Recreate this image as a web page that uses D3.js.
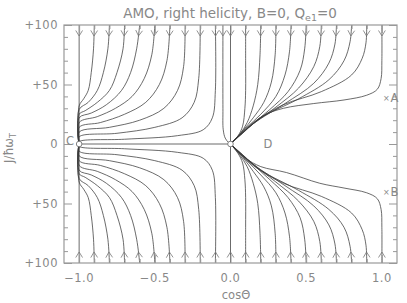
<!DOCTYPE html>
<html>
<head>
<meta charset="utf-8">
<script src="https://cdn.jsdelivr.net/npm/d3@7"></script>
<style>
  body { margin: 0; background: #fff; }
  text { font-family: "DejaVu Sans", sans-serif; fill: #888; }
</style>
</head>
<body>
<div id="master"></div>
<script>
// flow lines, [cosTheta, J] pairs
let topLeft = [
  [[-1.0,100],[-1.0,0]],
  [[-0.9,100],[-0.905,80],[-0.92,60],[-0.94,45],[-0.97,38],[-1.0,32],[-1.0,0]],
  [[-0.8,100],[-0.81,80],[-0.84,60],[-0.88,45],[-0.94,35],[-1.0,29],[-1.0,0]],
  [[-0.7,100],[-0.71,80],[-0.75,60],[-0.80,45],[-0.88,35],[-0.96,28],[-1.0,25],[-1.0,0]],
  [[-0.6,100],[-0.62,80],[-0.66,60],[-0.72,45],[-0.82,33],[-0.92,26],[-1.0,22],[-1.0,0]],
  [[-0.5,100],[-0.52,75],[-0.57,55],[-0.65,40],[-0.76,30],[-0.88,23],[-1.0,18],[-1.0,0]],
  [[-0.4,100],[-0.42,70],[-0.47,50],[-0.56,35],[-0.70,25],[-0.86,18],[-1.0,14],[-1.0,0]],
  [[-0.3,100],[-0.31,65],[-0.35,45],[-0.44,30],[-0.60,20],[-0.80,14],[-1.0,10],[-1.0,0]],
  [[-0.2,100],[-0.21,55],[-0.24,35],[-0.32,22],[-0.50,14],[-0.75,9],[-1.0,6],[-1.0,0]],
  [[-0.1,100],[-0.10,45],[-0.12,22],[-0.18,12],[-0.35,7],[-0.70,4],[-1.0,2],[-1.0,0]]
];
let topMid = [
  [[-0.05,100],[-0.05,30],[-0.048,12],[-0.035,5],[-0.015,1.5],[0,0]],
  [[0.0,100],[0.0,0]]
];
let topRight = [
  [[0.1,100],[0.1,70],[0.1,45],[0.095,30],[0.08,15],[0.05,7],[0,0]],
  [[0.2,100],[0.195,75],[0.18,50],[0.15,32],[0.11,18],[0.06,8],[0,0]],
  [[0.3,100],[0.295,75],[0.27,52],[0.22,35],[0.15,22],[0.08,11],[0,0]],
  [[0.4,100],[0.39,78],[0.36,58],[0.30,40],[0.20,25],[0.10,13],[0,0]],
  [[0.5,100],[0.49,80],[0.46,62],[0.38,44],[0.26,29],[0.12,14],[0,0]],
  [[0.6,100],[0.59,82],[0.55,65],[0.45,47],[0.30,31],[0.13,15],[0,0]],
  [[0.7,100],[0.69,84],[0.65,68],[0.55,51],[0.36,34],[0.15,17],[0,0]],
  [[0.8,100],[0.79,86],[0.75,70],[0.65,54],[0.45,38],[0.20,22],[0.08,9],[0,0]],
  [[0.9,100],[0.895,85],[0.87,72],[0.80,58],[0.60,44],[0.35,33],[0.15,18],[0,0]],
  [[1.0,100],[1.0,70],[0.995,55],[0.97,46],[0.90,41],[0.75,37],[0.55,34],[0.35,30],[0.22,24],[0.12,14],[0.05,6],[0,0]]
];
let bottomLeft = [
  [[-1.0,-100],[-1.0,0]],
  [[-0.9,-100],[-0.905,-80],[-0.92,-60],[-0.94,-45],[-0.97,-38],[-1.0,-32],[-1.0,0]],
  [[-0.8,-100],[-0.81,-80],[-0.84,-60],[-0.88,-45],[-0.94,-35],[-1.0,-29],[-1.0,0]],
  [[-0.7,-100],[-0.71,-80],[-0.75,-60],[-0.80,-45],[-0.88,-35],[-0.96,-28],[-1.0,-25],[-1.0,0]],
  [[-0.6,-100],[-0.62,-80],[-0.66,-60],[-0.72,-45],[-0.82,-33],[-0.92,-26],[-1.0,-22],[-1.0,0]],
  [[-0.5,-100],[-0.52,-75],[-0.57,-55],[-0.65,-40],[-0.76,-30],[-0.88,-23],[-1.0,-18],[-1.0,0]],
  [[-0.4,-100],[-0.42,-70],[-0.47,-50],[-0.56,-35],[-0.70,-25],[-0.86,-18],[-1.0,-14],[-1.0,0]],
  [[-0.3,-100],[-0.31,-65],[-0.35,-45],[-0.44,-30],[-0.60,-20],[-0.80,-14],[-1.0,-10],[-1.0,0]],
  [[-0.2,-100],[-0.21,-55],[-0.24,-35],[-0.32,-22],[-0.50,-14],[-0.75,-9],[-1.0,-6],[-1.0,0]],
  [[-0.1,-100],[-0.10,-45],[-0.12,-22],[-0.18,-12],[-0.35,-7],[-0.70,-4],[-1.0,-2],[-1.0,0]]
];
let bottomMid = [
  [[0.0,-100],[0.0,0]]
];
let bottomRight = [
  [[0.1,-100],[0.1,-70],[0.1,-45],[0.095,-30],[0.08,-16],[0.05,-8],[0,0]],
  [[0.2,-100],[0.195,-75],[0.18,-50],[0.15,-33],[0.11,-19],[0.06,-9],[0,0]],
  [[0.3,-100],[0.295,-75],[0.27,-52],[0.22,-36],[0.15,-23],[0.08,-11],[0,0]],
  [[0.4,-100],[0.39,-78],[0.36,-58],[0.30,-41],[0.20,-26],[0.10,-13],[0,0]],
  [[0.5,-100],[0.49,-80],[0.46,-62],[0.38,-45],[0.26,-30],[0.12,-14],[0,0]],
  [[0.6,-100],[0.59,-82],[0.55,-65],[0.45,-48],[0.30,-32],[0.13,-15],[0,0]],
  [[0.7,-100],[0.69,-84],[0.65,-68],[0.55,-52],[0.36,-35],[0.15,-17],[0,0]],
  [[0.8,-100],[0.79,-86],[0.75,-70],[0.65,-55],[0.45,-39],[0.20,-22],[0.08,-9],[0,0]],
  [[0.9,-100],[0.895,-85],[0.87,-72],[0.80,-58],[0.60,-44],[0.35,-33],[0.15,-18],[0,0]],
  [[1.0,-100],[1.0,-70],[0.995,-55],[0.97,-46],[0.90,-41],[0.75,-37],[0.59,-33],[0.37,-24],[0.20,-19],[0.10,-12],[0.04,-5],[0,0]]
];
let separatrix = [[-1.0,0],[0,0]];

let fixedPoints = [{name: "C", c: -1.0, j: 0}, {name: "D", c: 0.0, j: 0}];
let markers = [{name: "A", c: 1.03, j: 39}, {name: "B", c: 1.03, j: -40}];

let xTicks = [-1.0, -0.5, 0.0, 0.5, 1.0];
let xTickLabels = ["\u22121.0", "\u22120.5", "0.0", "0.5", "1.0"];
let yTicks = [100, 50, 0, -50, -100];
let yTickLabels = ["+100", "+50", "0", "+50", "+100"];

let w = 407, h = 303;
let svg = d3.select("#master").append("svg").attr("width", w).attr("height", h);

let x = d3.scaleLinear().domain([-1.1, 1.1]).range([64, 397]);
let y = d3.scaleLinear().domain([-100, 100]).range([263, 25]);

let line = d3.line().x(d => x(d[0])).y(d => y(d[1])).curve(d3.curveCatmullRom.alpha(0.5));

let all = [].concat(topLeft, topMid, topRight, bottomLeft, bottomMid, bottomRight);
let paths = svg.append("g").selectAll("path").data(all).enter().append("path")
  .attr("d", line).attr("fill", "none").attr("stroke", "#3a3a3a").attr("stroke-width", 0.75);
svg.append("path").attr("d", line(separatrix)).attr("fill", "none").attr("stroke", "#3a3a3a").attr("stroke-width", 0.75);

// arrowheads near the start of every line, following the curve
let arrows = svg.append("g");
paths.each(function(d) {
  if (Math.abs(d[0][1]) < 100) return;
  let p1 = this.getPointAtLength(4), p2 = this.getPointAtLength(11);
  let len = Math.hypot(p2.x - p1.x, p2.y - p1.y);
  let ux = (p2.x - p1.x) / len, uy = (p2.y - p1.y) / len;
  let tx = p2.x, ty = p2.y;
  let a = 0.55, s = 6.5;
  let c = Math.cos(a), sn = Math.sin(a);
  let w1 = [tx - s * (ux * c - uy * sn), ty - s * (uy * c + ux * sn)];
  let w2 = [tx - s * (ux * c + uy * sn), ty - s * (uy * c - ux * sn)];
  arrows.append("path")
    .attr("d", "M" + w1 + "L" + [tx, ty] + "L" + w2)
    .attr("fill", "none").attr("stroke", "#777").attr("stroke-width", 0.8);
});

// frame and ticks
let fc = "#999";
svg.append("rect").attr("x", 64).attr("y", 25).attr("width", 333).attr("height", 238)
  .attr("fill", "none").attr("stroke", fc).attr("stroke-width", 1.2);

let yAx = svg.append("g").attr("transform", "translate(64,0)")
  .call(d3.axisRight(y).ticks(20).tickSize(4).tickFormat(""));
let yAx2 = svg.append("g").attr("transform", "translate(397,0)")
  .call(d3.axisLeft(y).ticks(20).tickSize(4).tickFormat(""));
let xAx = svg.append("g").attr("transform", "translate(0,263)")
  .call(d3.axisTop(x).tickValues(d3.range(-10, 11).map(v => v / 10)).tickSize(4).tickFormat(""));
let xAx2 = svg.append("g").attr("transform", "translate(0,25)")
  .call(d3.axisBottom(x).tickValues(d3.range(-10, 11).map(v => v / 10)).tickSize(4).tickFormat(""));
[yAx, yAx2, xAx, xAx2].forEach(g => {
  g.select(".domain").remove();
  g.selectAll("line").attr("stroke", fc);
});
yAx.selectAll(".tick line").filter(d => d % 50 == 0).attr("x2", 8);
yAx2.selectAll(".tick line").filter(d => d % 50 == 0).attr("x2", -8);
xAx.selectAll(".tick line").filter(d => Math.abs(d * 2 - Math.round(d * 2)) < 1e-6).attr("y2", -8);
xAx2.selectAll(".tick line").filter(d => Math.abs(d * 2 - Math.round(d * 2)) < 1e-6).attr("y2", 8);

svg.append("g").selectAll("text").data(yTicks).enter().append("text")
  .attr("x", 58).attr("y", d => y(d) + 4).attr("text-anchor", "end")
  .attr("font-size", 11.5).attr("letter-spacing", 0.5)
  .text((d, i) => yTickLabels[i]);
svg.append("g").selectAll("text").data(xTicks).enter().append("text")
  .attr("x", d => x(d)).attr("y", 282).attr("text-anchor", "middle")
  .attr("font-size", 11.5).attr("letter-spacing", 0.5)
  .text((d, i) => xTickLabels[i]);

svg.append("text").attr("x", 236).attr("y", 299).attr("text-anchor", "middle")
  .attr("font-size", 11.5).text("cos\u0398");

let yl = svg.append("text").attr("transform", "translate(13,148) rotate(-90)")
  .attr("text-anchor", "middle").attr("font-size", 11.5);
yl.append("tspan").text("J/\u0127\u03c9");
yl.append("tspan").attr("font-size", 8).attr("dy", 3).text("T");

let title = svg.append("text").attr("x", 230).attr("y", 18).attr("text-anchor", "middle")
  .attr("font-size", 13.5);
title.append("tspan").text("AMO, right helicity, B=0, Q");
title.append("tspan").attr("font-size", 9.5).attr("dy", 3).text("e1");
title.append("tspan").attr("dy", -3).text("=0");

// fixed points
svg.append("g").selectAll("circle").data(fixedPoints).enter().append("circle")
  .attr("cx", d => x(d.c)).attr("cy", d => y(d.j)).attr("r", 2.8)
  .attr("fill", "#fff").attr("stroke", "#666").attr("stroke-width", 0.8);
svg.append("text").attr("x", x(-1.0) - 5).attr("y", y(0) + 1).attr("text-anchor", "end")
  .attr("font-size", 11.5).text("C");
svg.append("text").attr("x", x(0) + 33).attr("y", y(0) + 4)
  .attr("font-size", 11.5).text("D");

markers.forEach(m => {
  svg.append("text").attr("x", x(m.c)).attr("y", y(m.j) + 3).attr("text-anchor", "middle")
    .attr("font-size", 8).text("\u00d7");
  svg.append("text").attr("x", x(m.c) + 4).attr("y", y(m.j) + 4)
    .attr("font-size", 11.5).text(m.name);
});
</script>
</body>
</html>
